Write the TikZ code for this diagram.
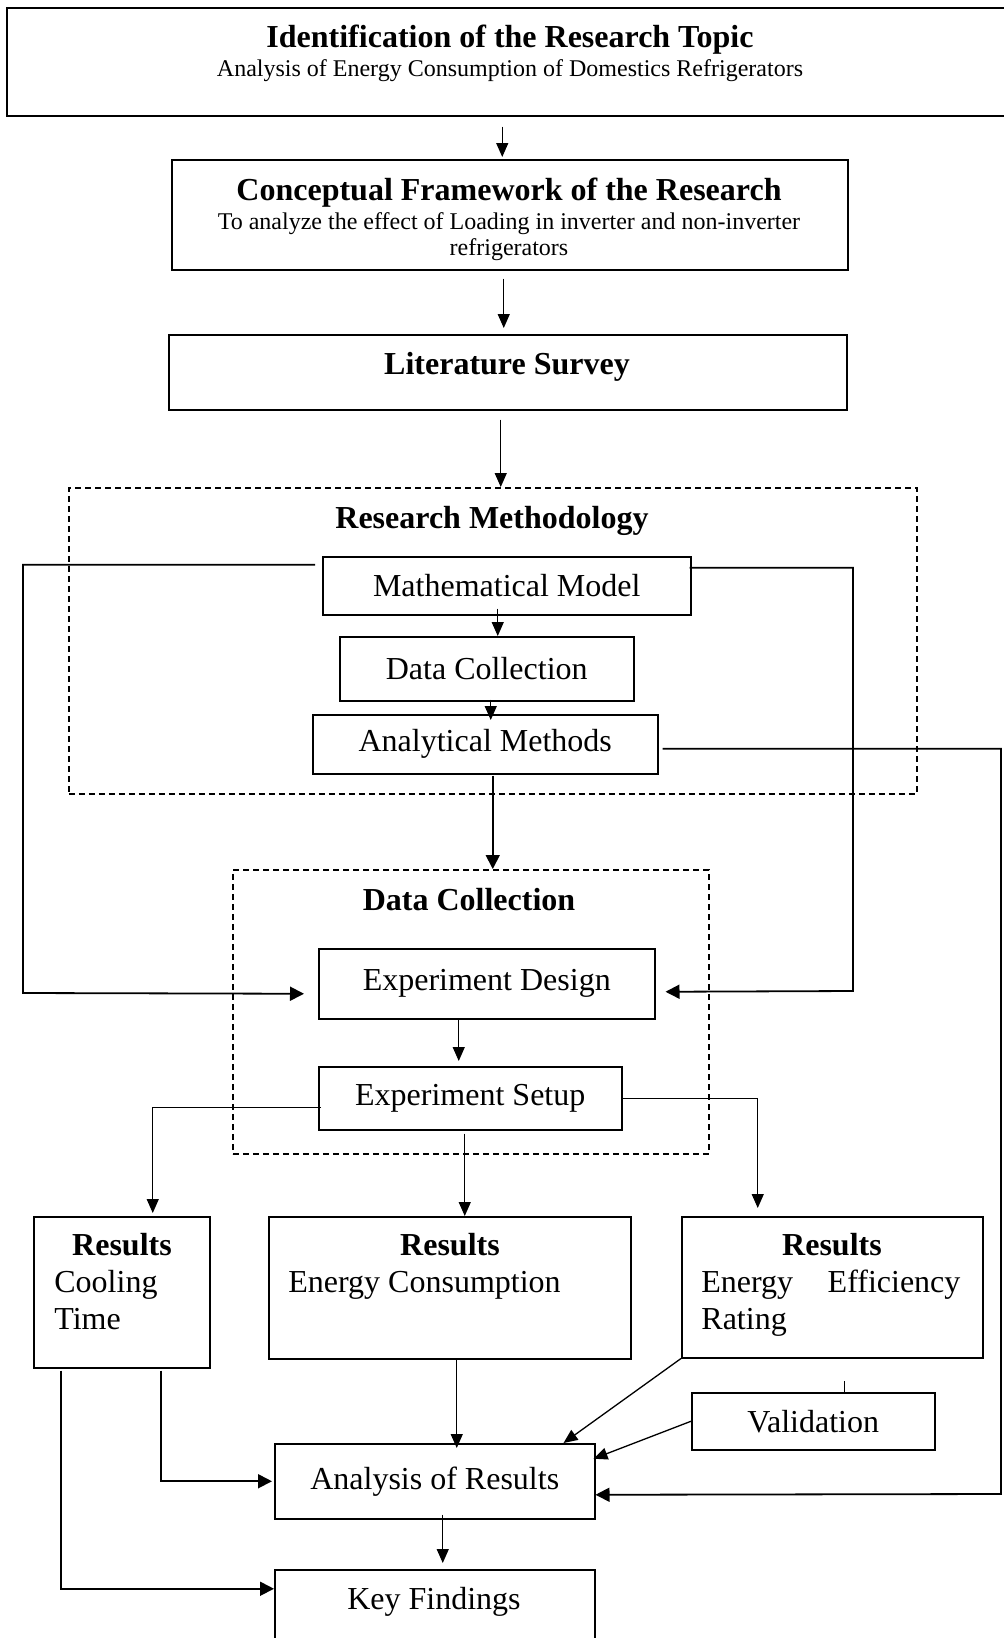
\documentclass[tikz,border=0pt]{standalone}
\usepackage{fontspec}
\setmainfont{Liberation Serif}
\usetikzlibrary{arrows.meta}
\begin{document}
\begin{tikzpicture}[x=0.5pt,y=-0.5pt,
  bx/.style={draw, line width=0.75pt, inner sep=0pt, anchor=north west},
  dbx/.style={draw, line width=0.75pt, dash pattern=on 3pt off 2pt, inner sep=0pt, anchor=north west},
  big/.style={font=\fontsize{16}{19}\selectfont},
  bigb/.style={font=\fontsize{16}{19}\selectfont\bfseries},
  small/.style={font=\fontsize{12}{14}\selectfont},
  ln/.style={line width=0.65pt},
  arr/.style={ln, -{Triangle[length=7pt,width=6pt]}},
  harr/.style={line width=0.9pt, -{Triangle[length=7pt,width=7pt]}}]
\useasboundingbox (0,0) rectangle (1004,1638);
\fill[white] (0,0) rectangle (1004,1638);
% boxes
\node[bx, minimum width=499.5pt, minimum height=54pt] (top) at (6,7) {};
\node[bx, minimum width=338pt, minimum height=55pt] (cf) at (171,159) {};
\node[bx, minimum width=339pt, minimum height=37.5pt] (ls) at (168,334) {};
\node[dbx, minimum width=424pt, minimum height=153pt] (rm) at (68,487) {};
\node[bx, big, minimum width=184pt, minimum height=29pt] (mm) at (322,556) {Mathematical Model};
\node[bx, big, minimum width=147pt, minimum height=32pt] (dc) at (339,636) {Data Collection};
\node[bx, big, minimum width=172.5pt, minimum height=29.5pt] (am) at (312,714) {Analytical Methods};
\node[dbx, minimum width=238pt, minimum height=142pt] (dcd) at (232,869) {};
\node[bx, big, minimum width=168pt, minimum height=35pt] (ed) at (318,948) {Experiment Design};
\node[bx, big, minimum width=151.5pt, minimum height=31.5pt] (es) at (318,1066) {Experiment Setup};
\node[bx, minimum width=88pt, minimum height=75.5pt] (r1) at (33,1216) {};
\node[bx, minimum width=181pt, minimum height=71pt] (r2) at (268,1216) {};
\node[bx, minimum width=150.5pt, minimum height=70.5pt] (r3) at (681,1216) {};
\node[bx, big, minimum width=121.5pt, minimum height=28.5pt] (val) at (691,1392) {Validation};
\node[bx, big, minimum width=160pt, minimum height=37.5pt] (aor) at (274,1443) {Analysis of Results};
\node[bx, minimum width=160pt, minimum height=36.5pt] (kf) at (274,1569) {};
% texts
\node[bigb, anchor=base] (t1) at (510,47) {Identification of the Research Topic};
\node[small, anchor=base] (t1s) at (510,76) {Analysis of Energy Consumption of Domestics Refrigerators};
\node[bigb, anchor=base] (t2) at (509,200) {Conceptual Framework of the Research};
\node[small, anchor=base] (t2s) at (509,229) {To analyze the effect of Loading in inverter and non-inverter};
\node[small, anchor=base] (t2t) at (509,255) {refrigerators};
\node[bigb, anchor=base] (t3) at (507,374) {Literature Survey};
\node[bigb, anchor=base] (t4) at (492,528) {Research Methodology};
\node[bigb, anchor=base] (t5) at (469,910) {Data Collection};
\node[bigb, anchor=base] (r1t) at (122,1255) {Results};
\node[big, anchor=base west, inner sep=0pt] (r1a) at (54,1292) {Cooling};
\node[big, anchor=base west, inner sep=0pt] (r1b) at (54,1329) {Time};
\node[bigb, anchor=base] (r2t) at (450,1255) {Results};
\node[big, anchor=base west, inner sep=0pt] (r2a) at (288,1292) {Energy Consumption};
\node[bigb, anchor=base] (r3t) at (832,1255) {Results};
\node[big, anchor=base west, inner sep=0pt] (r3a) at (701,1292) {\hbox to 129.5pt{Energy\hfill Efficiency}};
\node[big, anchor=base west, inner sep=0pt] (r3b) at (701,1329) {Rating};
\node[big, anchor=base] (kft) at (434,1609) {Key Findings};
% bend points
\coordinate (lft) at (23,993);
\coordinate (rgt) at (853,991);
\coordinate (far) at (1001,1494);
% connectors
\draw[arr, shorten <=5pt, shorten >=1pt] ([xshift=-2pt]top.south) -- ([xshift=-2pt]top.south |- cf.north);
\draw[arr, shorten <=4pt, shorten >=3pt] ([xshift=-3pt]cf.south) -- ([xshift=-3pt]cf.south |- ls.north);
\draw[arr, shorten <=4.5pt] ([xshift=-3.5pt]ls.south) -- ([xshift=-3.5pt]ls.south |- rm.north);
\draw[arr, shorten <=-3.5pt] ([xshift=-4.5pt]mm.south) -- ([xshift=-4.5pt]mm.south |- dc.north);
\draw[arr, shorten <=-1pt, shorten >=-3pt] ([xshift=2pt]dc.south) -- ([xshift=2pt]dc.south |- am.north);
\draw[harr, shorten <=0.5pt] ([xshift=3.75pt]am.south) -- ([xshift=3.75pt]am.south |- dcd.north);
\draw[harr] ([xshift=-3.5pt,yshift=10.5pt]mm.west) -| (lft) -- ([xshift=-7pt,yshift=-5pt]ed.west);
\draw[harr] ([xshift=-1pt,yshift=9pt]mm.east) -| (rgt) -- ([xshift=5pt,yshift=-4pt]ed.east);
\draw[harr] ([xshift=2pt,yshift=-2.25pt]am.east) -| (far) -- ([yshift=-6.75pt]aor.east);
\draw[arr, shorten >=2.5pt] ([xshift=-14pt]ed.south) -- ([xshift=-14pt]ed.south |- es.north);
\draw[arr, shorten >=1.5pt] ([xshift=1.5pt,yshift=-4.75pt]es.west) -| ([xshift=15.5pt]r1.north);
\draw[arr, shorten <=1.5pt] ([xshift=-2.75pt]es.south) -- ([xshift=-2.75pt]es.south |- r2.north);
\draw[arr, shorten >=4pt] (es.east) -| ([xshift=-37.25pt]r3.north);
\draw[arr, shorten >=-2.5pt] ([xshift=3.5pt]r2.south) -- ([xshift=3.5pt]r2.south |- aor.north);
\draw[arr] (r3.south west) -- ([xshift=-16pt]aor.north east);
\draw[arr] (val.west) -- ([xshift=-1pt,yshift=11.25pt]aor.east);
\draw[harr] ([xshift=19.5pt,yshift=-1pt]r1.south) |- ([xshift=-1pt]aor.west);
\draw[harr] ([xshift=-30.5pt,yshift=-1pt]r1.south) |- ([yshift=8.75pt]kf.west);
\draw[arr, shorten <=-2.5pt, shorten >=3pt] ([xshift=4pt]aor.south) -- ([xshift=4pt]aor.south |- kf.north);
\draw[ln] ([xshift=15.75pt]val.north) -- ++(0,-11);
\end{tikzpicture}
\end{document}
